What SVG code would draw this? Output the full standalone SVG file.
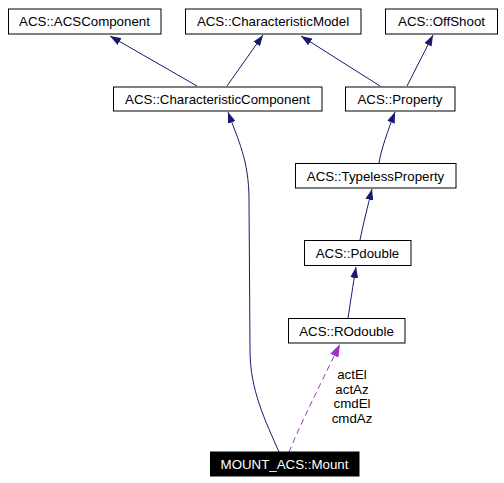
<svg xmlns="http://www.w3.org/2000/svg" width="504" height="483" viewBox="0 0 504 483">
<style>
.node rect{fill:#ffffff;stroke:#000000;stroke-width:1}
.node text{font-family:"Liberation Sans",Arial,sans-serif;font-size:13.3px;fill:#000000;text-anchor:middle}
#mount rect{fill:#000000}
#mount text{fill:#ffffff}
.e{fill:none;stroke:#191970;stroke-width:1}
.d{fill:none;stroke:#9a32cd;stroke-width:1;stroke-dasharray:6,4}
.lbl{font-family:"Liberation Sans",Arial,sans-serif;font-size:13.3px;fill:#000000;text-anchor:middle}
</style>
<defs>
<marker id="ah" viewBox="0 0 11 8" refX="11" refY="4" markerWidth="11" markerHeight="8" markerUnits="userSpaceOnUse" orient="auto">
<path d="M0,0 L11,4 L0,8 z" fill="#191970"/>
</marker>
<marker id="ahp" viewBox="0 0 13 9" refX="13" refY="4.5" markerWidth="13" markerHeight="9" markerUnits="userSpaceOnUse" orient="auto">
<path d="M0,0 L13,4.5 L0,9 z" fill="#9a32cd"/>
</marker>
</defs>
<rect width="504" height="483" fill="#ffffff"/>
<g id="connectors">
<path class="e" d="M197,86 L110,36" marker-end="url(#ah)"/>
<path class="e" d="M227,86 L263,35" marker-end="url(#ah)"/>
<path class="e" d="M380,86 L301,36" marker-end="url(#ah)"/>
<path class="e" d="M407,86 L433,35" marker-end="url(#ah)"/>
<path class="e" d="M279,452 C265,420 250,390 250,350 L249,200 C249,160 238,140 228,112" marker-end="url(#ah)"/>
<path class="e" d="M379,163 C381,150 388,130 395,112" marker-end="url(#ah)"/>
<path class="e" d="M360,240 C363,225 368,205 372,189" marker-end="url(#ah)"/>
<path class="e" d="M348,318 C350,305 353,285 356,267" marker-end="url(#ah)"/>
<path class="d" d="M289,452 C300,425 320,385 340,344" marker-end="url(#ahp)"/>
<text class="lbl" x="352" y="379">actEl</text>
<text class="lbl" x="352" y="394">actAz</text>
<text class="lbl" x="352" y="408">cmdEl</text>
<text class="lbl" x="352" y="423">cmdAz</text>
</g>
<g id="acscomponent" class="node"><rect x="8.5" y="9" width="152.5" height="25"/><text x="84.5" y="26">ACS::ACSComponent</text></g>
<g id="characteristicmodel" class="node"><rect x="185.5" y="9" width="175.5" height="25"/><text x="273" y="26">ACS::CharacteristicModel</text></g>
<g id="offshoot" class="node"><rect x="385.5" y="9" width="112" height="25"/><text x="441.5" y="26">ACS::OffShoot</text></g>
<g id="characteristiccomponent" class="node"><rect x="113.5" y="87" width="208.5" height="24"/><text x="217.5" y="103.5">ACS::CharacteristicComponent</text></g>
<g id="property" class="node"><rect x="345.5" y="87" width="109.5" height="24"/><text x="400" y="103.5">ACS::Property</text></g>
<g id="typelessproperty" class="node"><rect x="295.5" y="163.5" width="160.5" height="24.5"/><text x="375.5" y="180.5">ACS::TypelessProperty</text></g>
<g id="pdouble" class="node"><rect x="304.5" y="240.5" width="106.5" height="25"/><text x="357.5" y="257.5">ACS::Pdouble</text></g>
<g id="rodouble" class="node"><rect x="288.5" y="318.5" width="116.5" height="24.5"/><text x="346.5" y="335.5">ACS::ROdouble</text></g>
<g id="mount" class="node"><rect x="210.5" y="452" width="148.5" height="24"/><text x="284.5" y="468.5">MOUNT_ACS::Mount</text></g>
</svg>
